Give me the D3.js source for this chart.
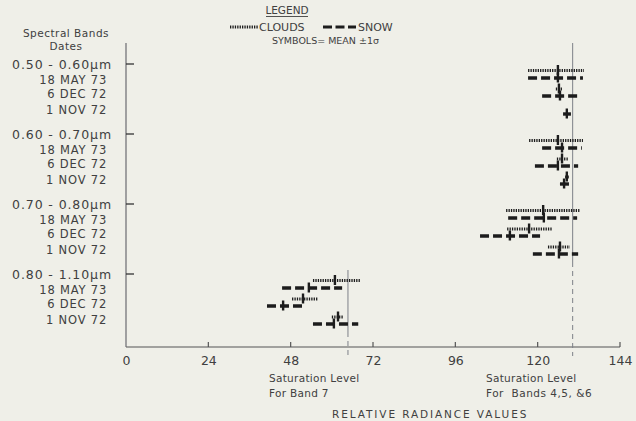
<!DOCTYPE html>
<html>
<head>
<meta charset="utf-8">
<script src="https://cdn.jsdelivr.net/npm/d3@7"></script>
<style>
  html, body { margin: 0; padding: 0; background: #efefe8; }
  svg { display: block; }
  text { font-family: "DejaVu Sans", sans-serif; fill: #404040; white-space: pre; }
</style>
</head>
<body>
<svg id="chart" width="636" height="421"></svg>
<script>
// Spectral bands (groups) and acquisition dates (rows inside each group)
const bands = ["0.50 - 0.60\u00b5m", "0.60 - 0.70\u00b5m", "0.70 - 0.80\u00b5m", "0.80 - 1.10\u00b5m"];
const dates = ["18 MAY 73", "6 DEC 72", "1 NOV 72"];
const xTicks = [0, 24, 48, 72, 96, 120, 144];

// Clouds: mean and the mean -1 sigma / +1 sigma ends, [band][date]
const cloudsLow  = [[117.2, 125.3, null], [117.5, 125.6, 128.0], [110.8, 111.1, 123.0], [54.5, 48.4, 60.0]];
const cloudsMean = [[125.9, 126.2, null], [125.9, 127.1, 128.5], [121.6, 117.5, 126.5], [60.9, 51.6, 61.8]];
const cloudsHigh = [[133.5, 127.4, null], [133.2, 128.8, 129.4], [132.3, 124.2, 129.4], [68.2, 56.0, 63.3]];

// Snow: mean and the mean -1 sigma / +1 sigma ends, [band][date]
const snowLow  = [[117.2, 121.3, 127.4], [121.3, 119.2, 126.5], [111.4, 103.2, 118.6], [45.5, 41.1, 54.5]];
const snowMean = [[125.9, 126.5, 128.5], [127.1, 125.9, 127.7], [121.8, 111.9, 126.2], [53.3, 45.8, 60.6]];
const snowHigh = [[133.2, 131.8, 129.7], [132.9, 131.8, 129.4], [131.5, 120.7, 131.8], [63.0, 51.6, 67.7]];

// Sensor saturation levels: band 7, and bands 4, 5 & 6
const saturation = [64.7, 130.2];

const svg = d3.select("#chart");
const ink = "#1c1c1c";

const x = d3.scaleLinear().domain([0, 144]).range([126, 620]);
// one unit per spectral band group; the group's tick sits at its integer position
const yGroup = d3.scaleLinear().domain([0, 4]).range([64, 344]);
const axisBottom = 347, axisTop = 43;

// row offsets (px) under each group tick
const labelOff = [15, 29, 45];
const cloudOff = [6.5, 25, 43];
const snowOff = [14, 32, 50];

// --- axes ---
const xAxis = d3.axisBottom(x).tickValues(xTicks).tickSize(0).tickPadding(9);
const gx = svg.append("g").attr("transform", `translate(0,${axisBottom})`).call(xAxis);
gx.select(".domain").remove();
gx.selectAll("text").attr("font-size", 12.5).attr("fill", "#404040").style("font-family", "DejaVu Sans, sans-serif");

svg.append("line").attr("x1", x(0)).attr("x2", x(144)).attr("y1", axisBottom).attr("y2", axisBottom)
  .attr("stroke", "#555").attr("stroke-width", 1.2);
svg.selectAll(".xtick").data(xTicks.filter(d => d > 0)).join("line")
  .attr("x1", d => x(d)).attr("x2", d => x(d))
  .attr("y1", axisBottom).attr("y2", axisBottom - 5)
  .attr("stroke", "#555").attr("stroke-width", 1.2);

svg.append("line").attr("x1", x(0)).attr("x2", x(0)).attr("y1", axisTop).attr("y2", axisBottom)
  .attr("stroke", "#6a6a70").attr("stroke-width", 1.2);
svg.selectAll(".ytick").data(bands).join("line")
  .attr("x1", x(0)).attr("x2", x(0) + 8)
  .attr("y1", (d, i) => yGroup(i)).attr("y2", (d, i) => yGroup(i))
  .attr("stroke", "#333").attr("stroke-width", 1.3);

// --- left labels ---
svg.append("text").attr("x", 66).attr("y", 37).attr("text-anchor", "middle").attr("font-size", 10.5)
  .attr("letter-spacing", 0.5).text("Spectral Bands");
svg.append("text").attr("x", 66).attr("y", 50).attr("text-anchor", "middle").attr("font-size", 10.5)
  .attr("letter-spacing", 0.5).text("Dates");

bands.forEach((b, i) => {
  svg.append("text").attr("x", 112).attr("y", yGroup(i) + 4.5).attr("text-anchor", "end")
    .attr("font-size", 12.5).attr("letter-spacing", 0.9).text(b);
  dates.forEach((d, j) => {
    svg.append("text").attr("x", 107).attr("y", yGroup(i) + labelOff[j] + 4.5).attr("text-anchor", "end")
      .attr("font-size", 11.5).attr("letter-spacing", 0.8).text(d);
  });
});

// --- saturation level lines ---
const satTop = [yGroup(3) - 4, axisTop];
saturation.forEach((s, i) => {
  const solidEnd = i === 0 ? yGroup(3) + 58 : yGroup(3) - 12;
  svg.append("line").attr("x1", x(s)).attr("x2", x(s)).attr("y1", satTop[i]).attr("y2", solidEnd)
    .attr("stroke", "#7d8088").attr("stroke-width", 1);
  svg.append("line").attr("x1", x(s)).attr("x2", x(s)).attr("y1", solidEnd).attr("y2", axisBottom + 9)
    .attr("stroke", "#7d8088").attr("stroke-width", 1).attr("stroke-dasharray", "5,4");
});

// --- data marks ---
const dotted = "1.3,1.1", dashed = "9,4";
function drawSeries(low, mean, high, offs, dash, width) {
  bands.forEach((b, i) => {
    dates.forEach((d, j) => {
      if (mean[i][j] == null) return;
      const yy = yGroup(i) + offs[j];
      svg.append("line").attr("x1", x(low[i][j])).attr("x2", x(high[i][j]))
        .attr("y1", yy).attr("y2", yy)
        .attr("stroke", ink).attr("stroke-width", width).attr("stroke-dasharray", dash);
      svg.append("line").attr("x1", x(mean[i][j])).attr("x2", x(mean[i][j]))
        .attr("y1", yy - 5.5).attr("y2", yy + 4.5)
        .attr("stroke", ink).attr("stroke-width", 2.4);
    });
  });
}
drawSeries(cloudsLow, cloudsMean, cloudsHigh, cloudOff, dotted, 3.2);
drawSeries(snowLow, snowMean, snowHigh, snowOff, dashed, 3.4);

// --- legend ---
svg.append("text").attr("x", 287).attr("y", 14).attr("text-anchor", "middle").attr("font-size", 10.5).text("LEGEND");
svg.append("line").attr("x1", 266).attr("x2", 308).attr("y1", 16.5).attr("y2", 16.5).attr("stroke", "#404040").attr("stroke-width", 0.9);
svg.append("line").attr("x1", 230).attr("x2", 258).attr("y1", 27).attr("y2", 27)
  .attr("stroke", ink).attr("stroke-width", 3).attr("stroke-dasharray", dotted);
svg.append("text").attr("x", 259).attr("y", 31).attr("font-size", 11).text("CLOUDS");
svg.append("line").attr("x1", 323).attr("x2", 356).attr("y1", 27).attr("y2", 27)
  .attr("stroke", ink).attr("stroke-width", 3.2).attr("stroke-dasharray", "9,3.5");
svg.append("text").attr("x", 358).attr("y", 31).attr("font-size", 11).text("SNOW");
svg.append("text").attr("x", 272).attr("y", 44).attr("font-size", 9.5).text("SYMBOLS= MEAN \u00b11\u03c3");

// --- bottom annotations ---
svg.append("text").attr("x", 269).attr("y", 382).attr("font-size", 10.5).attr("letter-spacing", 0.3).text("Saturation Level");
svg.append("text").attr("x", 269).attr("y", 397).attr("font-size", 10.5).attr("letter-spacing", 0.3).text("For Band 7");
svg.append("text").attr("x", 486).attr("y", 382).attr("font-size", 10.5).attr("letter-spacing", 0.3).text("Saturation Level");
svg.append("text").attr("x", 486).attr("y", 397).attr("font-size", 10.5).attr("letter-spacing", 0.5).text("For  Bands 4,5, &6");
svg.append("text").attr("x", 332).attr("y", 418).attr("font-size", 10.5)
  .attr("letter-spacing", 1.9).text("RELATIVE RADIANCE VALUES");
</script>
</body>
</html>
